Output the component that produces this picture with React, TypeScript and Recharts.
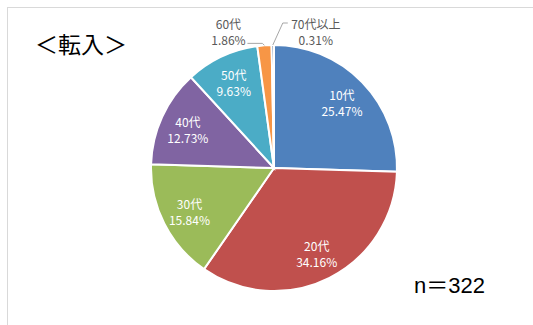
import React from 'react';
import { PieChart, Pie, Cell } from 'recharts';

const ageGroups = ['10代', '20代', '30代', '40代', '50代', '60代', '70代以上'];
const shares = [25.47, 34.16, 15.84, 12.73, 9.63, 1.86, 0.31];
const sliceColors = ['#4F81BD', '#C0504D', '#9BBB59', '#8064A2', '#4BACC6', '#F79646', '#2C4D75'];
const chartTitle = '＜転入＞';
const sampleNote = 'n＝322';

const data = ageGroups.map((name, i) => ({ name, value: shares[i] }));

const FONT = '"Noto Sans CJK JP", "Noto Sans", sans-serif';
const RAD = Math.PI / 180;

const renderLabel = (props: any) => {
  const { cx, cy, midAngle, outerRadius, name, value } = props;
  const pct = `${value.toFixed(2)}%`;
  if (value > 5) {
    const r = outerRadius * 0.77;
    const x = cx + r * Math.cos(-midAngle * RAD);
    const y = cy + r * Math.sin(-midAngle * RAD);
    return (
      <text x={x} y={y} fill="#fff" fontSize={12} fontFamily={FONT} textAnchor="middle">
        <tspan x={x} dy={-2}>{name}</tspan>
        <tspan x={x} dy={16}>{pct}</tspan>
      </text>
    );
  }
  // small slices: label outside with leader line
  const ex = cx + outerRadius * Math.cos(-midAngle * RAD);
  const ey = cy + outerRadius * Math.sin(-midAngle * RAD);
  const left = name === '60代';
  const points = left
    ? `${ex},${ey} ${ex - 2},${ey - 2} ${ex - 17},${ey - 2}`
    : `${ex},${ey} ${ex + 10},${ey - 22} ${ex + 15},${ey - 22}`;
  const tx = left ? ex - 36 : ex + 43;
  const ty = ey - 14;
  return (
    <g>
      <polyline points={points} fill="none" stroke="#a6a6a6" strokeWidth={1} />
      <text x={tx} y={ty} fill="#595959" fontSize={12} fontFamily={FONT} textAnchor="middle">
        <tspan x={tx} dy={-2}>{name}</tspan>
        <tspan x={tx} dy={16}>{pct}</tspan>
      </text>
    </g>
  );
};

export default function App() {
  return (
    <div style={{ position: 'absolute', left: 0, top: 0, width: 533, height: 325, background: '#fff', overflow: 'hidden' }}>
      <div style={{ position: 'absolute', left: 7, top: 7, right: 0, bottom: 0, borderTop: '1px solid #d9d9d9', borderLeft: '1px solid #d9d9d9' }} />
      <PieChart width={533} height={325} margin={{ top: 0, right: 0, bottom: 0, left: 0 }} style={{ position: 'absolute', left: 0, top: 0 }}>
        <Pie
          data={data}
          dataKey="value"
          nameKey="name"
          cx={274}
          cy={168}
          outerRadius={123}
          startAngle={90}
          endAngle={-270}
          stroke="#fff"
          strokeWidth={2}
          label={renderLabel}
          labelLine={false}
          isAnimationActive={false}
        >
          {data.map((d, i) => (
            <Cell key={d.name} fill={sliceColors[i]} />
          ))}
        </Pie>
      </PieChart>
      <div style={{ position: 'absolute', left: 35, top: 26, fontSize: 23, fontFamily: FONT, color: '#000', lineHeight: '34px' }}>
        {chartTitle}
      </div>
      <div style={{ position: 'absolute', left: 414, top: 270, fontSize: 22, fontFamily: '"Liberation Sans", "Noto Sans CJK JP", sans-serif', color: '#000', lineHeight: '32px' }}>
        {sampleNote}
      </div>
    </div>
  );
}
